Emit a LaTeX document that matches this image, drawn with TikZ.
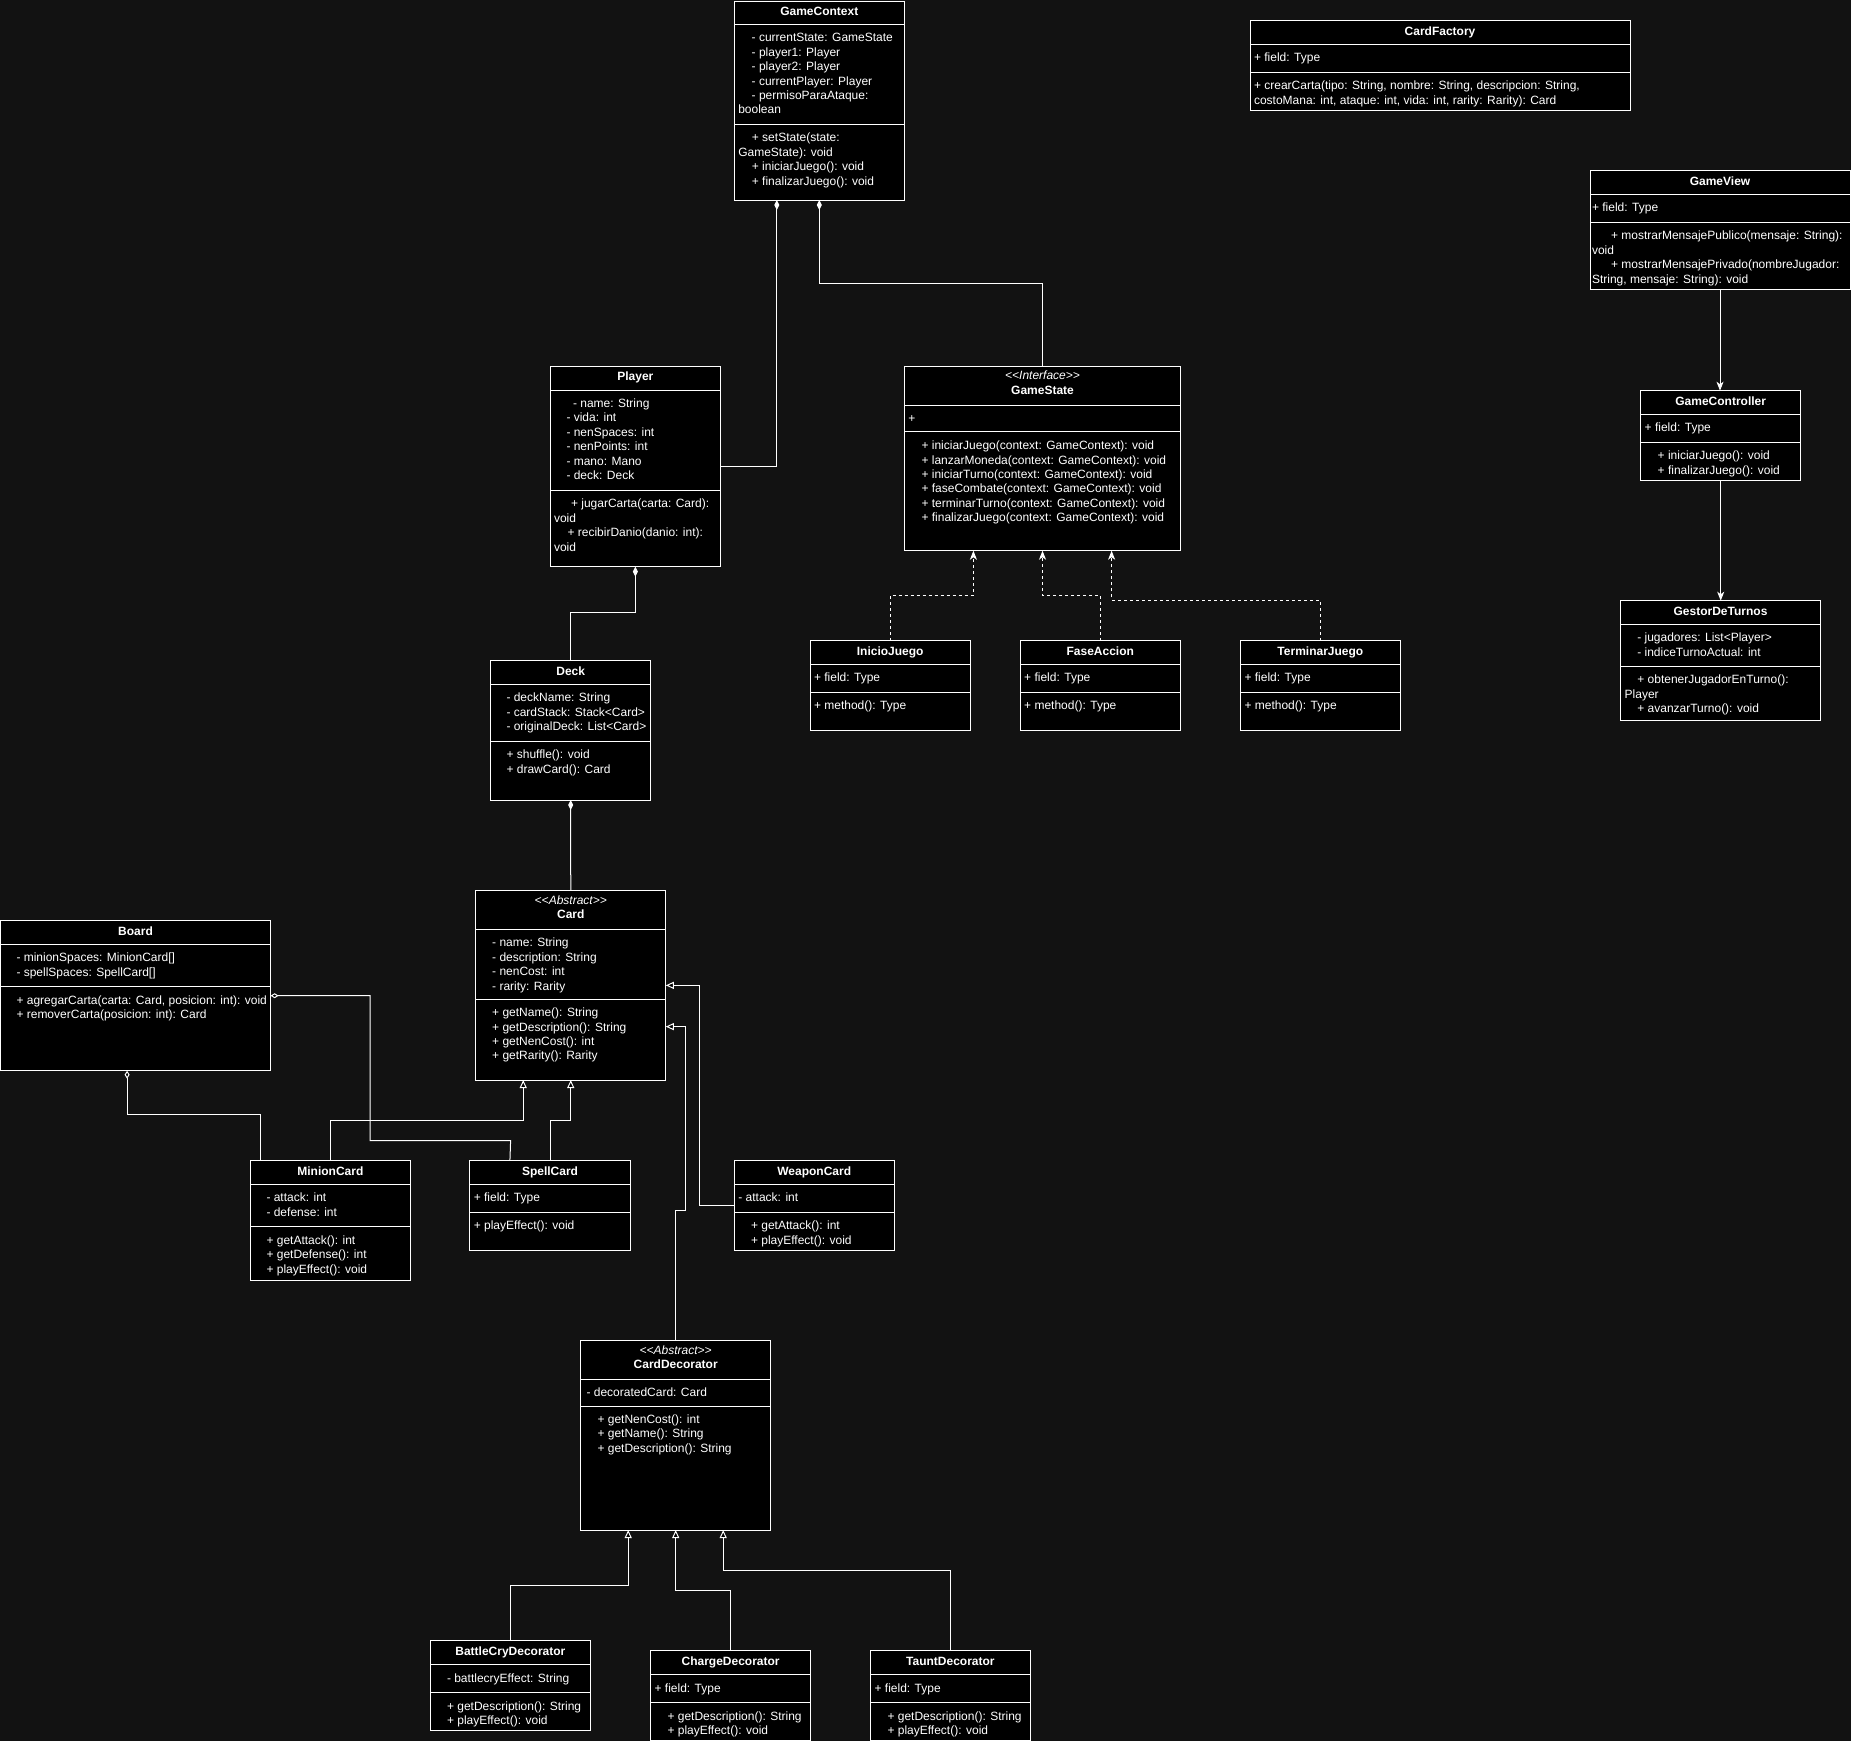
\documentclass[tikz,border=0pt]{standalone}
\usepackage{fontspec}
\setmainfont{Liberation Sans}
\usetikzlibrary{arrows.meta,calc}
\definecolor{bg}{RGB}{18,18,18}
\newcommand\umlbox[7]{%
  \node[umlrect, minimum width={(#4-#2)*1pt}, minimum height={(#5-#3)*1pt}, anchor=north west] (#1) at (#2,#3) {};
  \draw[sepline] (#2,#6) -- (#4,#6);
  \draw[sepline] (#2,#7) -- (#4,#7);
}
\newcommand\ind[1]{\hspace*{#1pt}}
\tikzset{
  umlrect/.style={draw=white, fill=black, line width=1pt, inner sep=0pt, outer sep=0pt, rectangle},
  sepline/.style={draw=white, line width=1pt},
  txt/.style={text=white, font=\fontsize{12}{14.45}\selectfont, inner sep=0pt, outer sep=0pt, align=left, anchor=base west},
  ttl/.style={text=white, font=\fontsize{12}{14.45}\selectfont\bfseries, inner sep=0pt, outer sep=0pt, anchor=base},
  stereo/.style={text=white, font=\fontsize{12}{14.45}\selectfont\itshape, inner sep=0pt, outer sep=0pt, anchor=base},
  conn/.style={draw=white, line width=1pt},
  gen/.style={conn, -{Triangle[length=8pt,width=7pt,fill=black,line width=1pt]}},
  comp/.style={conn, {Diamond[length=10pt,width=5pt,fill=white]}-},
  aggr/.style={conn, {Diamond[length=8pt,width=5pt,fill=black,line width=1pt]}-},
  real/.style={conn, dash pattern=on 3pt off 3pt, -{Stealth[length=9pt,width=7pt,inset=2.5pt,fill=white]}},
  assoc/.style={conn, -{Stealth[length=9pt,width=7pt,inset=2.5pt,fill=white]}},
}
\begin{document}
\begin{tikzpicture}[x=1pt,y=-1pt]
\fill[bg] (0,0) rectangle (1851,1741);
\useasboundingbox (0,0) rectangle (1851,1741);

% ---------- boxes ----------
\umlbox{gc}{734.3}{1}{904.3}{200}{24.3}{124.3}
\umlbox{cf}{1250}{20.7}{1630}{110}{44.3}{72.3}
\umlbox{gv}{1590}{170.7}{1850}{289}{194.3}{222.3}
\umlbox{gctl}{1640.7}{390.7}{1800.7}{480}{414.3}{442.3}
\umlbox{gdt}{1620.7}{600.7}{1820.3}{720}{624.3}{666}
\umlbox{pl}{550}{366}{720.7}{566.7}{390}{490}
\umlbox{gs}{904.3}{366}{1180.7}{550.7}{405}{431.7}
\umlbox{ij}{810}{640.7}{970.4}{730.3}{664.3}{692.3}
\umlbox{fa}{1020.2}{640.7}{1180.4}{730.3}{664.3}{692.3}
\umlbox{tj}{1240.5}{640.7}{1400.2}{730.3}{664.3}{692.3}
\umlbox{dk}{490.7}{660.7}{650.7}{800}{684.3}{741}
\umlbox{cd}{475.7}{890.7}{665.8}{1080}{929.3}{999}
\umlbox{bd}{0.5}{920.7}{270.6}{1070.7}{944.3}{986.7}
\umlbox{mc}{250.4}{1160.7}{410.4}{1280.3}{1184.3}{1226.7}
\umlbox{sc}{469.8}{1160.7}{630.3}{1250}{1184.3}{1212.3}
\umlbox{wc}{734.4}{1160.7}{894}{1250}{1184.3}{1212.3}
\umlbox{cdec}{580.7}{1340.7}{770.7}{1530}{1379.3}{1406}
\umlbox{bcd}{430.2}{1640.7}{590.6}{1730.3}{1664.7}{1692.7}
\umlbox{chd}{650.6}{1650.7}{810.6}{1740}{1674.7}{1702.7}
\umlbox{td}{870.6}{1650.7}{1030.2}{1740}{1674.7}{1702.7}

% ---------- texts (multi-line nodes are placed by the baseline of their last line) ----------
% GameContext
\node[ttl] (gc-t) at (819.3,15.3) {GameContext};
\node[txt] (gc-a) at (738.3,113.95) {\ind{13.4}- currentState: GameState\\\ind{13.4}- player1: Player\\\ind{13.4}- player2: Player\\\ind{13.4}- currentPlayer: Player\\\ind{13.4}- permisoParaAtaque:\\boolean};
\node[txt] (gc-m) at (738.3,185.05) {\ind{13.6}+ setState(state:\\GameState): void\\\ind{13.6}+ iniciarJuego(): void\\\ind{13.6}+ finalizarJuego(): void};
% CardFactory
\node[ttl] (cf-t) at (1440,35.3) {CardFactory};
\node[txt] (cf-a) at (1254,61.7) {+ field: Type};
\node[txt] (cf-m) at (1254,104.35) {+ crearCarta(tipo: String, nombre: String, descripcion: String,\\costoMana: int, ataque: int, vida: int, rarity: Rarity): Card};
% GameView
\node[ttl] (gv-t) at (1720,185.5) {GameView};
\node[txt] (gv-a) at (1592,211.7) {+ field: Type};
\node[txt] (gv-m) at (1592,283.25) {\ind{19}+ mostrarMensajePublico(mensaje: String):\\void\\\ind{19}+ mostrarMensajePrivado(nombreJugador:\\String, mensaje: String): void};
% GameController
\node[ttl] (gctl-t) at (1720.7,405.2) {GameController};
\node[txt] (gctl-a) at (1644.7,431.7) {+ field: Type};
\node[txt] (gctl-m) at (1644.7,474.35) {\ind{13}+ iniciarJuego(): void\\\ind{13}+ finalizarJuego(): void};
% GestorDeTurnos
\node[ttl] (gdt-t) at (1720.5,615.2) {GestorDeTurnos};
\node[txt] (gdt-a) at (1624.7,656.15) {\ind{12.6}- jugadores: List<Player>\\\ind{12.6}- indiceTurnoActual: int};
\node[txt] (gdt-m) at (1624.7,712.5) {\ind{12.6}+ obtenerJugadorEnTurno():\\Player\\\ind{12.6}+ avanzarTurno(): void};
% Player
\node[ttl] (pl-t) at (635.35,380.5) {Player};
\node[txt] (pl-a) at (554,479.65) {\ind{19}- name: String\\\ind{12.5}- vida: int\\\ind{12.5}- nenSpaces: int\\\ind{12.5}- nenPoints: int\\\ind{12.5}- mano: Mano\\\ind{12.5}- deck: Deck};
\node[txt] (pl-m) at (554,551.15) {\ind{17}+ jugarCarta(carta: Card):\\void\\\ind{13.5}+ recibirDanio(danio: int):\\void};
% GameState
\node[stereo] (gs-s) at (1042.5,379.7) {<\kern0pt<Interface>\kern0pt>};
\node[ttl] (gs-t) at (1042.5,394.5) {GameState};
\node[txt] (gs-a) at (908.3,422.4) {+};
\node[txt] (gs-m) at (908.3,521.85) {\ind{13.2}+ iniciarJuego(context: GameContext): void\\\ind{13.2}+ lanzarMoneda(context: GameContext): void\\\ind{13.2}+ iniciarTurno(context: GameContext): void\\\ind{13.2}+ faseCombate(context: GameContext): void\\\ind{13.2}+ terminarTurno(context: GameContext): void\\\ind{13.2}+ finalizarJuego(context: GameContext): void};
% InicioJuego, FaseAccion, TerminarJuego
\node[ttl] (ij-t) at (890.2,655.2) {InicioJuego};
\node[txt] (ij-a) at (814,681.7) {+ field: Type};
\node[txt] (ij-m) at (814,709.7) {+ method(): Type};
\node[ttl] (fa-t) at (1100.3,655.2) {FaseAccion};
\node[txt] (fa-a) at (1024.2,681.7) {+ field: Type};
\node[txt] (fa-m) at (1024.2,709.7) {+ method(): Type};
\node[ttl] (tj-t) at (1320.35,655.2) {TerminarJuego};
\node[txt] (tj-a) at (1244.5,681.7) {+ field: Type};
\node[txt] (tj-m) at (1244.5,709.7) {+ method(): Type};
% Deck
\node[ttl] (dk-t) at (570.7,675.2) {Deck};
\node[txt] (dk-a) at (506.5,730.6) {- deckName: String\\- cardStack: Stack<Card>\\- originalDeck: List<Card>};
\node[txt] (dk-m) at (506.5,773.05) {+ shuffle(): void\\+ drawCard(): Card};
% Card
\node[stereo] (cd-s) at (570.75,904.5) {<\kern0pt<Abstract>\kern0pt>};
\node[ttl] (cd-t) at (570.75,918.5) {Card};
\node[txt] (cd-a) at (492.2,990.05) {- name: String\\- description: String\\- nenCost: int\\- rarity: Rarity};
\node[txt] (cd-m) at (492.2,1059.95) {+ getName(): String\\+ getDescription(): String\\+ getNenCost(): int\\+ getRarity(): Rarity};
% Board
\node[ttl] (bd-t) at (135.5,935.3) {Board};
\node[txt] (bd-a) at (16.5,976.15) {- minionSpaces: MinionCard[]\\- spellSpaces: SpellCard[]};
\node[txt] (bd-m) at (16.5,1018.55) {+ agregarCarta(carta: Card, posicion: int): void\\+ removerCarta(posicion: int): Card};
% MinionCard
\node[ttl] (mc-t) at (330.4,1175.3) {MinionCard};
\node[txt] (mc-a) at (266.5,1216.15) {- attack: int\\- defense: int};
\node[txt] (mc-m) at (266.5,1273) {+ getAttack(): int\\+ getDefense(): int\\+ playEffect(): void};
% SpellCard
\node[ttl] (sc-t) at (550.05,1175.3) {SpellCard};
\node[txt] (sc-a) at (473.8,1201.7) {+ field: Type};
\node[txt] (sc-m) at (473.8,1229.7) {+ playEffect(): void};
% WeaponCard
\node[ttl] (wc-t) at (814.2,1175.3) {WeaponCard};
\node[txt] (wc-a) at (738.4,1201.7) {- attack: int};
\node[txt] (wc-m) at (751,1244.15) {+ getAttack(): int\\+ playEffect(): void};
% CardDecorator
\node[stereo] (cdec-s) at (675.7,1354.5) {<\kern0pt<Abstract>\kern0pt>};
\node[ttl] (cdec-t) at (675.7,1368.5) {CardDecorator};
\node[txt] (cdec-a) at (586.5,1396.7) {- decoratedCard: Card};
\node[txt] (cdec-m) at (597.5,1452.3) {+ getNenCost(): int\\+ getName(): String\\+ getDescription(): String};
% BattleCryDecorator
\node[ttl] (bcd-t) at (510.4,1655.3) {BattleCryDecorator};
\node[txt] (bcd-a) at (447,1682.1) {- battlecryEffect: String};
\node[txt] (bcd-m) at (447,1724.55) {+ getDescription(): String\\+ playEffect(): void};
% ChargeDecorator
\node[ttl] (chd-t) at (730.6,1665.3) {ChargeDecorator};
\node[txt] (chd-a) at (654.6,1692.1) {+ field: Type};
\node[txt] (chd-m) at (667.5,1734.55) {+ getDescription(): String\\+ playEffect(): void};
% TauntDecorator
\node[ttl] (td-t) at (950.4,1665.3) {TauntDecorator};
\node[txt] (td-a) at (874.6,1692.1) {+ field: Type};
\node[txt] (td-m) at (887.5,1734.55) {+ getDescription(): String\\+ playEffect(): void};

% ---------- connectors ----------
\draw[comp] ($(gc.south west)!0.25!(gc.south east)$) |- (pl.east);
\draw[comp] (gc.south) -- ++(0,83.3) -| (gs.north);
\draw[comp] (pl.south) -- ++(0,46) -| (dk.north);
\draw[comp] (dk.south) -- (cd.north);
\draw[assoc] (gv.south) -- (gv.south |- gctl.north);
\draw[assoc] (gctl.south) -- (gctl.south |- gdt.north);
\draw[real] (ij.north) -- ++(0,-45.7) -| ($(gs.south west)!0.25!(gs.south east)$);
\draw[real] (fa.north) -- ++(0,-45.7) -| (gs.south);
\draw[real] (tj.north) -- ++(0,-40.4) -| ($(gs.south west)!0.75!(gs.south east)$);
\draw[aggr] ($(bd.south west)+(126.6,0)$) -- ++(0,43.7) -| ($(mc.north west)+(10,0)$);
\draw[aggr] (bd.east) -- ++(99.4,0) |- ++(140.6,145) -- ($(sc.north west)!0.25!(sc.north east)$);
\draw[gen] (mc.north) -- ++(0,-40.7) -| ($(cd.south west)!0.25!(cd.south east)$);
\draw[gen] (sc.north) -- ++(0,-40.7) -| (cd.south);
\draw[gen] (wc.west) -- ++(-34.7,0) |- (cd.east);
\draw[gen] (cdec.north) -- ++(0,-130.7) -- ++(9.7,0) |- ($(cd.north east)!0.718!(cd.south east)$);
\draw[gen] (bcd.north) -- ++(0,-55) -| ($(cdec.south west)!0.25!(cdec.south east)$);
\draw[gen] (chd.north) -- ++(0,-60) -| (cdec.south);
\draw[gen] (td.north) -- ++(0,-80) -| ($(cdec.south west)!0.75!(cdec.south east)$);
\end{tikzpicture}
\end{document}
